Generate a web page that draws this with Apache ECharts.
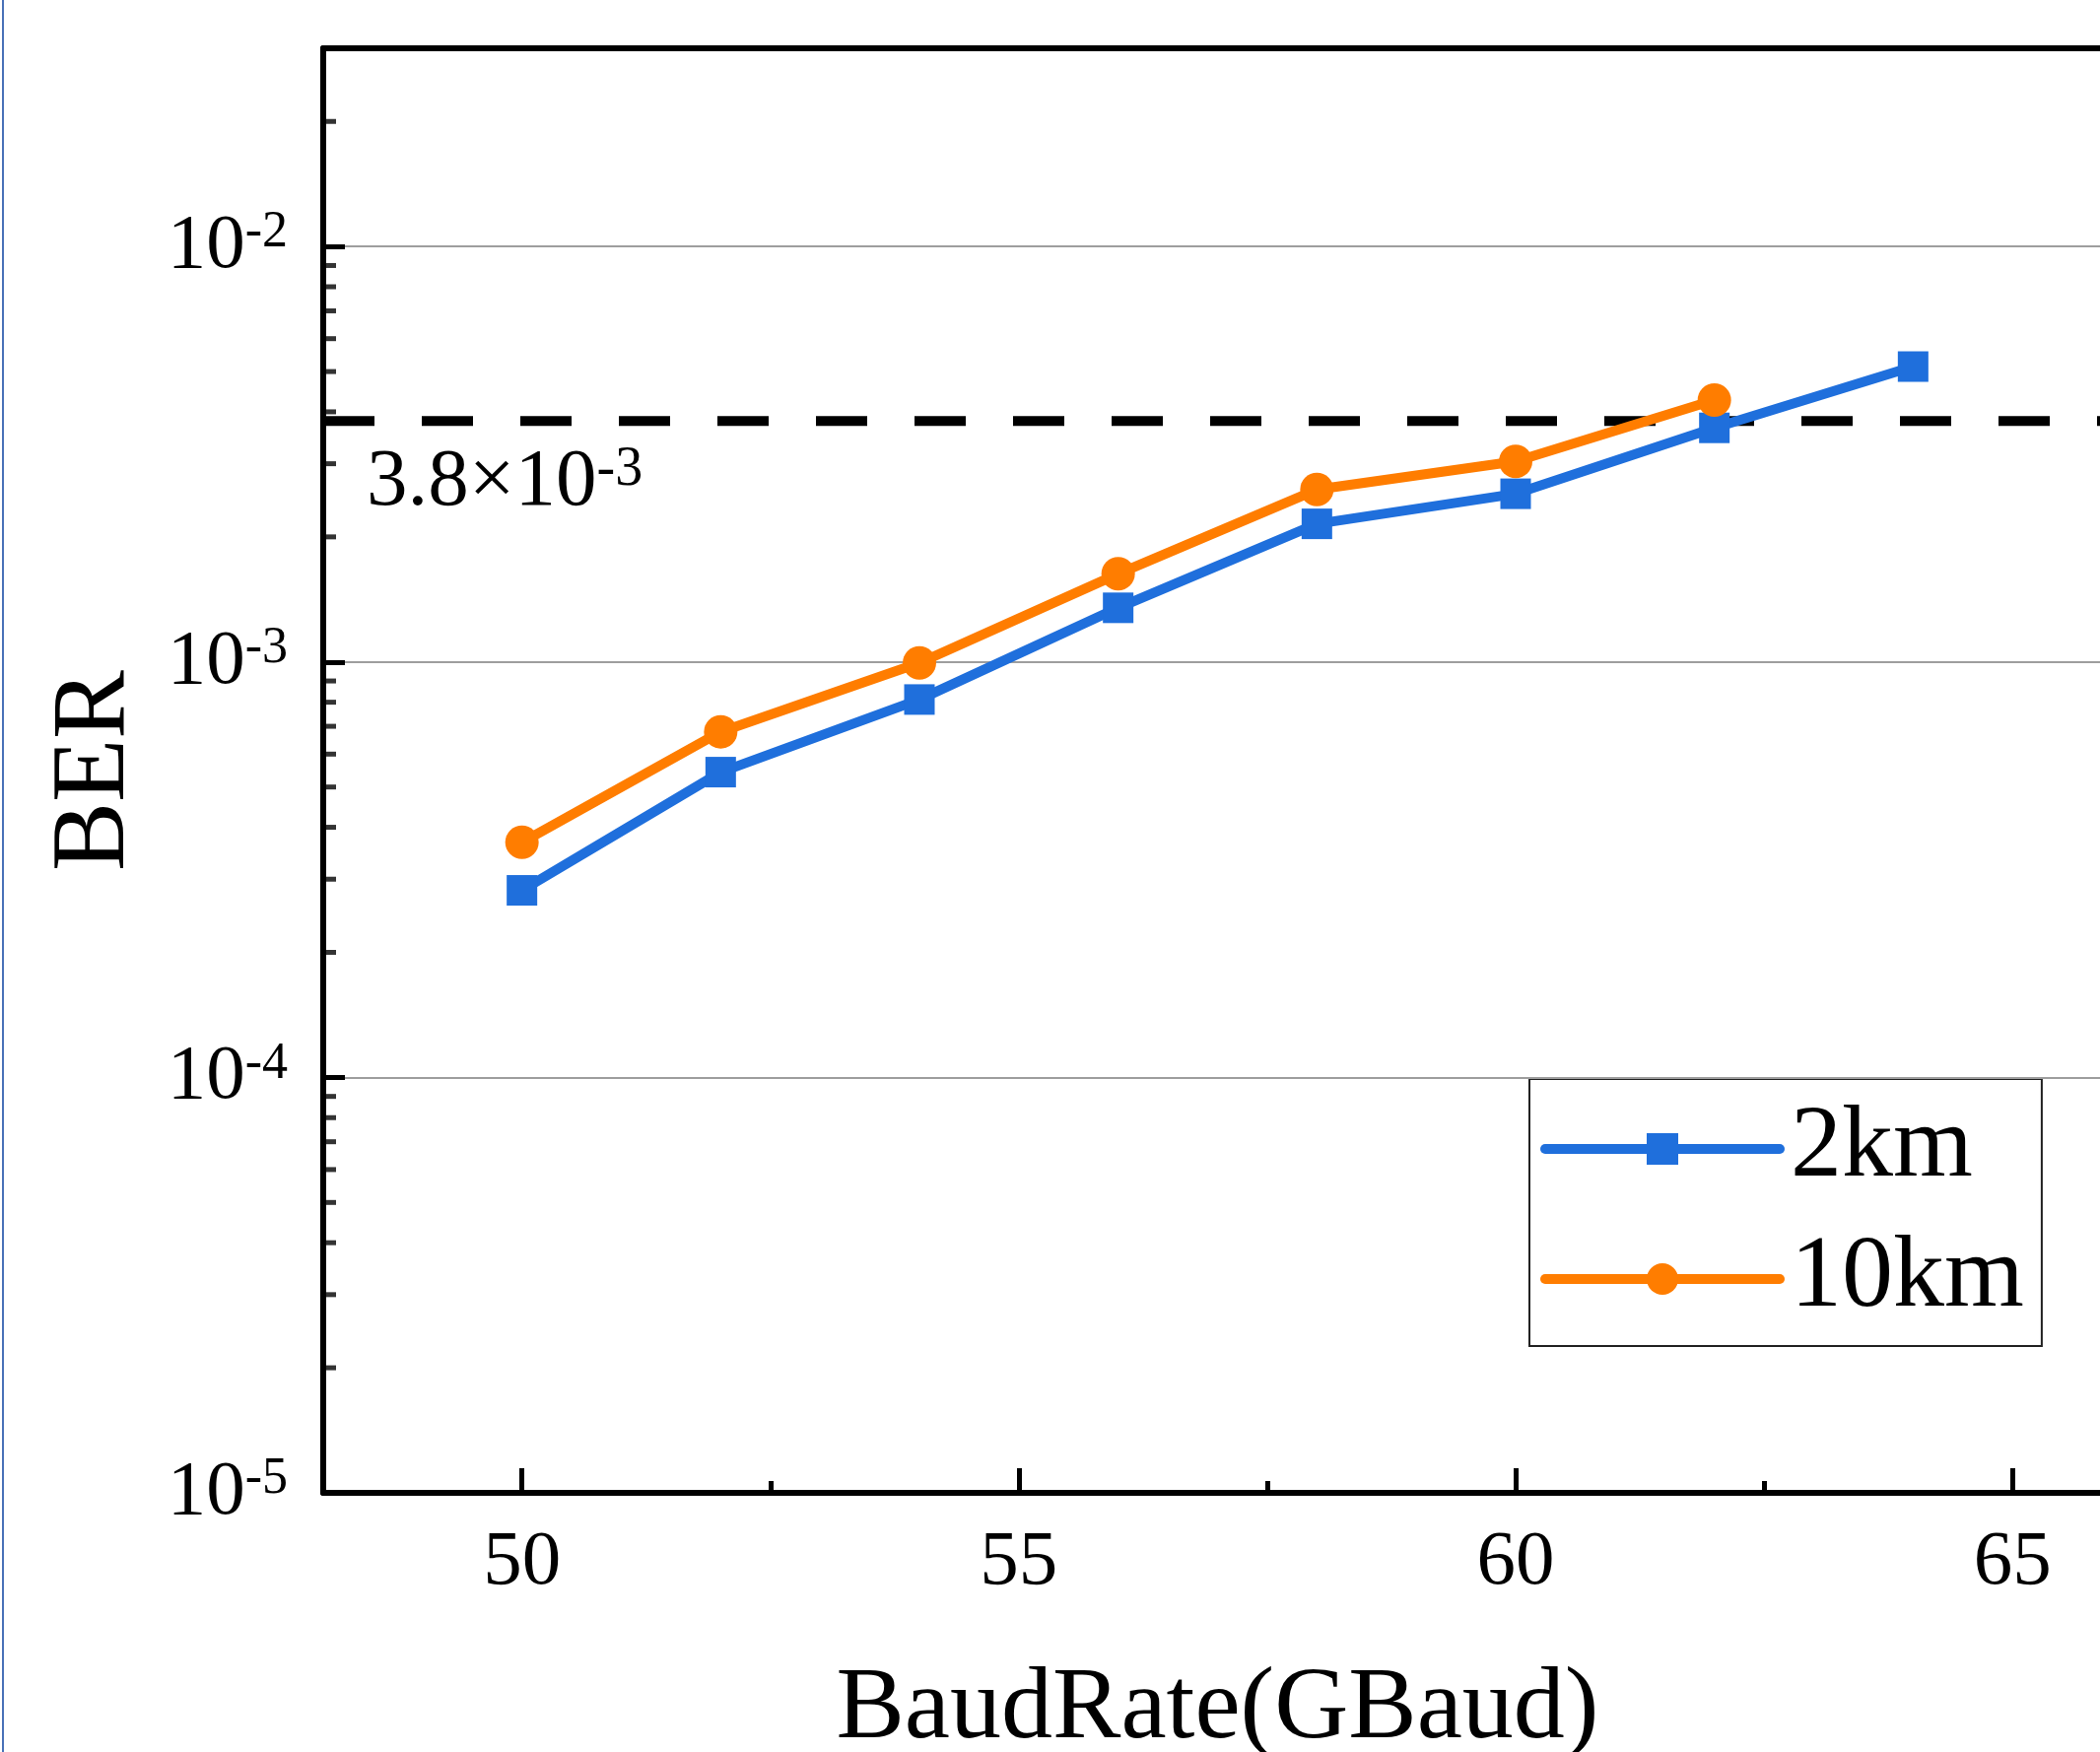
<!DOCTYPE html>
<html>
<head>
<meta charset="utf-8">
<script src="https://cdn.jsdelivr.net/npm/echarts@6/dist/echarts.min.js"></script>
<style>
html,body{margin:0;padding:0;background:#fff;}
#chart{width:2131px;height:1778px;}
</style>
</head>
<body>
<div id="chart"></div>
<script>
// ---- data ----
const baudRates2km = [50, 52, 54, 56, 58, 60, 62, 64];
const ber2km = [2.82e-4, 5.43e-4, 8.12e-4, 1.35e-3, 2.15e-3, 2.54e-3, 3.66e-3, 5.14e-3];
const baudRates10km = [50, 52, 54, 56, 58, 60, 62];
const ber10km = [3.68e-4, 6.79e-4, 9.95e-4, 1.63e-3, 2.60e-3, 3.04e-3, 4.27e-3];
const seriesNames = ['2km', '10km'];
const fecLimit = 3.8e-3;
const fecLabelMain = '3.8×10';
const fecLabelExp = '-3';
const xMajorTicks = [50, 55, 60, 65];
const xMinorTicks = [52.5, 57.5, 62.5];
const yMinorTicks = [2e-5,3e-5,4e-5,5e-5,6e-5,7e-5,8e-5,9e-5,
                     2e-4,3e-4,4e-4,5e-4,6e-4,7e-4,8e-4,9e-4,
                     2e-3,3e-3,4e-3,5e-3,6e-3,7e-3,8e-3,9e-3,
                     2e-2];
const xRange = [48, 66];
const yRange = [1e-5, 0.03];

const FONT = 'Liberation Serif';
const BLUE = '#1f6fdc';
const ORANGE = '#ff7d00';
const GRID_GRAY = '#9e9e9e';

const chart = echarts.init(document.getElementById('chart'), null, {renderer: 'canvas'});

function powLabel(v) {
  const e = Math.log10(v);
  const r = Math.round(e);
  if (Math.abs(e - r) > 1e-6) return '';
  return '{b|10}{s|' + r + '}';
}
const supRich = {
  b: {fontSize: 79, fontFamily: FONT, color: '#000'},
  s: {fontSize: 52, fontFamily: FONT, color: '#000', verticalAlign: 'top', lineHeight: 36}
};
const fecRich = {
  b: {fontSize: 83, fontFamily: FONT, color: '#000'},
  s: {fontSize: 56, fontFamily: FONT, color: '#000', verticalAlign: 'top', lineHeight: 38}
};

const option = {
  animation: false,
  backgroundColor: '#fff',
  grid: {
    left: 328, top: 49, width: 1815, height: 1466,
    show: false,
    containLabel: false, outerBoundsMode: 'none'
  },
  legend: {
    data: seriesNames,
    orient: 'vertical',
    left: 1552, top: 1095,
    padding: [19, 18, 16, 11],
    itemWidth: 238, itemHeight: 40, itemGap: 28,
    borderColor: '#222', borderWidth: 2, backgroundColor: '#fff',
    textStyle: {fontFamily: FONT, fontSize: 104, color: '#000', padding: [0, 0, 0, 6]},
    lineStyle: {width: 10, cap: 'round'}
  },
  xAxis: [{
    type: 'value', position: 'bottom', min: xRange[0], max: xRange[1],
    name: 'BaudRate(GBaud)', nameLocation: 'middle', nameGap: 169,
    nameTextStyle: {fontFamily: FONT, fontSize: 104, color: '#000'},
    axisLine: {show: true, onZero: false, lineStyle: {color: '#000', width: 6}},
    axisTick: {show: true, inside: true, length: 25, customValues: xMajorTicks, lineStyle: {color: '#000', width: 5}},
    axisLabel: {show: true, margin: 32, customValues: xMajorTicks, fontFamily: FONT, fontSize: 79, color: '#000'},
    splitLine: {show: false}
  }, {
    type: 'value', position: 'bottom', min: xRange[0], max: xRange[1],
    axisLine: {show: false, onZero: false},
    axisTick: {show: true, inside: true, length: 12, customValues: xMinorTicks, lineStyle: {color: '#000', width: 5}},
    axisLabel: {show: false},
    splitLine: {show: false}
  }, {
    // top frame line
    type: 'value', position: 'top', min: xRange[0], max: xRange[1],
    axisLine: {show: true, onZero: false, lineStyle: {color: '#000', width: 6}},
    axisTick: {show: false}, axisLabel: {show: false}, splitLine: {show: false},
    z: 10
  }],
  yAxis: [{
    type: 'log', logBase: 10, position: 'left', min: yRange[0], max: yRange[1],
    name: 'BER', nameLocation: 'middle', nameGap: 178,
    nameTextStyle: {fontFamily: FONT, fontSize: 105, color: '#000'},
    axisLine: {show: true, lineStyle: {color: '#000', width: 6}},
    axisTick: {show: true, inside: true, length: 22, lineStyle: {color: '#000', width: 5}},
    axisLabel: {show: true, margin: 36, formatter: powLabel, rich: supRich},
    splitLine: {
      show: true, showMinLine: false, showMaxLine: false,
      lineStyle: {color: [GRID_GRAY, GRID_GRAY, GRID_GRAY, GRID_GRAY, 'rgba(0,0,0,0)'], width: 2}
    },
    minorTick: {show: false},
    z: 5
  }],
  series: [{
    name: 'threshold', type: 'line', xAxisIndex: 0, yAxisIndex: 0,
    data: [[xRange[0], fecLimit], [xRange[1], fecLimit]],
    symbol: 'none', silent: true,
    lineStyle: {color: '#000', width: 10, type: [52, 48], dashOffset: 0},
    z: 2
  }, {
    name: seriesNames[0], type: 'line', xAxisIndex: 0, yAxisIndex: 0,
    data: baudRates2km.map((x, i) => [x, ber2km[i]]),
    symbol: 'rect', symbolSize: 31,
    lineStyle: {color: BLUE, width: 10},
    itemStyle: {color: BLUE},
    z: 5
  }, {
    name: seriesNames[1], type: 'line', xAxisIndex: 0, yAxisIndex: 0,
    data: baudRates10km.map((x, i) => [x, ber10km[i]]),
    symbol: 'circle', symbolSize: 34,
    lineStyle: {color: ORANGE, width: 10},
    itemStyle: {color: ORANGE},
    z: 5
  }, {
    name: 'yMinorTicks', type: 'scatter', xAxisIndex: 0, yAxisIndex: 0,
    data: yMinorTicks.map(v => [xRange[0], v]),
    symbol: 'rect', symbolSize: [13, 5], symbolOffset: [6.5, 0],
    itemStyle: {color: '#000'}, silent: true, clip: false, z: 6
  }]
};
chart.setOption(option);

// threshold label, anchored to the threshold's position through the axes
const anchor = chart.convertToPixel({gridIndex: 0}, [xRange[0], fecLimit]);
chart.setOption({
  graphic: [{
    type: 'rect', shape: {x: 2, y: 0, width: 2, height: 1778},
    style: {fill: '#4a72b8'}, silent: true
  }, {
    type: 'text', silent: true, z: 20,
    x: anchor[0] + 44, y: anchor[1] + 63,
    style: {
      text: '{b|' + fecLabelMain + '}{s|' + fecLabelExp + '}',
      rich: fecRich, align: 'left', verticalAlign: 'middle'
    }
  }]
});
</script>
</body>
</html>
